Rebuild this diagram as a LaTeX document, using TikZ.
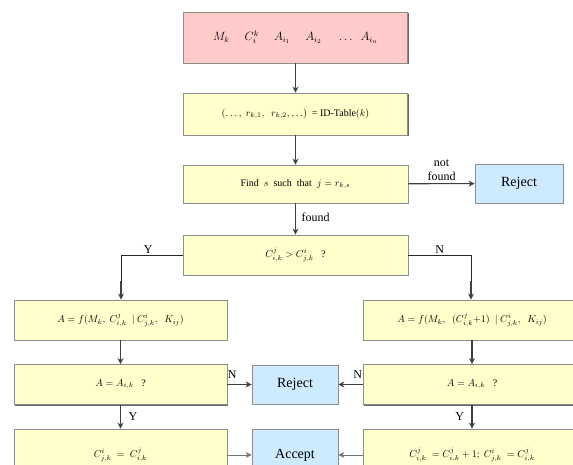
\documentclass[tikz,border=0pt]{standalone}
\usepackage{amsmath,amssymb}
\usepackage{fontspec}
\setmainfont{Liberation Serif}
\usepackage{tikz}
\usetikzlibrary{calc,arrows.meta,shadows}

\begin{document}
\begin{tikzpicture}[x=1pt,y=-1pt,
	boite/.style={rectangle,draw=black!45,line width=0.8pt,inner sep=1pt,
		general shadow={fill=black!60,shadow xshift=1.4pt,shadow yshift=-1.4pt},
		font=\fontsize{10}{11}\selectfont},
	jaune/.style={boite,fill={rgb,255:red,255;green,255;blue,204}},
	rose/.style={boite,fill={rgb,255:red,255;green,202;blue,202}},
	bleu/.style={boite,fill={rgb,255:red,206;green,234;blue,255},font=\fontsize{14}{16}\selectfont},
	fleche/.style={draw=black!75,line width=1.1pt,-{Stealth[length=6pt,width=6pt]}},
	trait/.style={draw=black!85,line width=0.9pt},
	etiq/.style={font=\fontsize{12}{13}\selectfont,inner sep=1.5pt}]
	\def\xG{121}; % colonne gauche
	\def\xM{295.5}; % colonne du milieu
	\def\xD{471}; % colonne droite
\useasboundingbox (0,0) rectangle (573,465);
\clip (0,0) rectangle (573,465);

%Boites de la colonne du milieu
\node[rose,minimum width=224,minimum height=51,font=\fontsize{12}{13}\selectfont] (entree) at (\xM,37.5)
	{$M_k\quad\ C^k_{i}\quad\ A_{i_1}\quad\ A_{i_2}\quad\ \ldots\ \ A_{i_n}$};
\node[jaune,minimum width=224,minimum height=42] (table) at (\xM,114)
	{$(\ldots,\ r_{k,1},\ \ r_{k,2},\ldots)$ \ = ID-Table$(k)$};
\node[jaune,minimum width=225,minimum height=38] (cherche) at (\xM,184)
	{Find \ $s$ \ such \ that \ $j = r_{k,s}$};
\node[bleu,minimum width=88,minimum height=39] (rejet1) at (519,183.5) {Reject};
\node[jaune,minimum width=225,minimum height=40] (test) at (\xM,255)
	{$C^{j}_{i,k} > C^{i}_{j,k}$ \ \ ?};

%Boites de la colonne gauche
\node[jaune,minimum width=213,minimum height=40] (fG) at (\xG-0.5,320)
	{$A = f(M_k,\ C^{j}_{i,k}\ \ |\ C^{i}_{j,k},\ \ K_{ij})$};
\node[jaune,minimum width=213,minimum height=40] (verifG) at (\xG-0.5,384.5)
	{$A = A_{i,k}$ \ \ ?};
\node[jaune,minimum width=213,minimum height=52] (majG) at (\xG-0.5,455)
	{$C^{i}_{j,k} \ = \ C^{j}_{i,k}$};

%Boites de la colonne droite
\node[jaune,minimum width=218,minimum height=40] (fD) at (\xD+1,320)
	{$A = f(M_k,\ \ (C^{j}_{i,k}{+}1)\ \ |\ C^{i}_{j,k},\ \ K_{ij})$};
\node[jaune,minimum width=218,minimum height=40] (verifD) at (\xD+1,384.5)
	{$A = A_{i,k}$ \ \ ?};
\node[jaune,minimum width=218,minimum height=52] (majD) at (\xD+1,455)
	{$C^{j}_{i,k} \ = C^{j}_{i,k}+1;\ C^{i}_{j,k} \ = C^{j}_{i,k}$};

%Reject et Accept du bas
\node[bleu,minimum width=86,minimum height=39] (rejet2) at (295,384.5) {Reject};
\node[bleu,minimum width=86,minimum height=52] (accepte) at (295,455) {Accept};

%Fleches
\draw[fleche] (entree) -- (table);
\draw[fleche] (table) -- (cherche);
\draw[fleche] (cherche) -- node[etiq,above,align=center,yshift=1pt] {not\\[1pt]found} (rejet1);
\draw[fleche] (cherche) -- node[etiq,right,xshift=4pt,yshift=2pt] {found} (test);
\draw[trait] (test.west) -| node[etiq,above,pos=0.28] {Y} ($(fG.north)+(0.5,-18)$);
\draw[fleche] ($(fG.north)+(0.5,-18.5)$) -- ($(fG.north)+(0.5,0)$);
\draw[trait] (test.east) -| node[etiq,above,pos=0.25] {N} ($(fD.north)+(-1,-18)$);
\draw[fleche] ($(fD.north)+(-1,-18.5)$) -- ($(fD.north)+(-1,0)$);
\draw[fleche] (fG) -- (verifG);
\draw[fleche] (fD) -- (verifD);
\draw[fleche] (verifG) -- node[etiq,right,xshift=6pt] {Y} (majG);
\draw[fleche] (verifD) -- node[etiq,left,xshift=-6pt] {Y} (majD);
\draw[fleche] (verifG) -- node[etiq,above,pos=0.2,yshift=4pt] {N} (rejet2);
\draw[fleche] (verifD) -- node[etiq,above,pos=0.2,yshift=4pt] {N} (rejet2);
\draw[fleche,draw=black!55,line width=0.9pt] (majG.east|-accepte.west) -- (accepte.west);
\draw[fleche,draw=black!55,line width=0.9pt] (majD.west|-accepte.east) -- (accepte.east);

\end{tikzpicture}
\end{document}
